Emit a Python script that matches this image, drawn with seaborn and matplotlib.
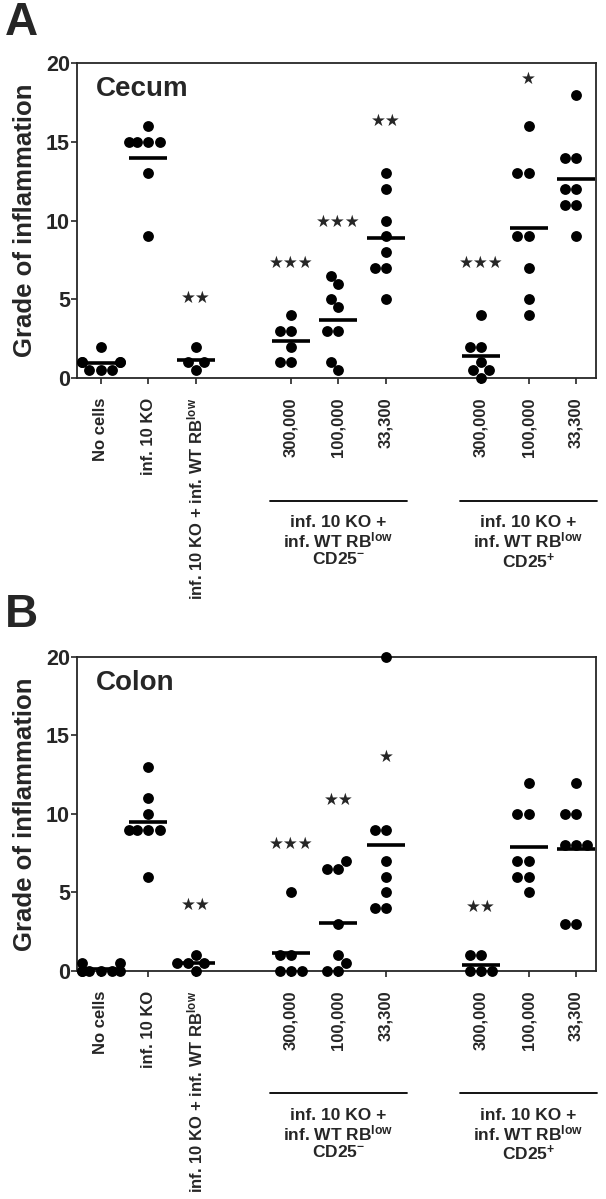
import numpy as np
import pandas as pd
import matplotlib
matplotlib.use("Agg")
import matplotlib.pyplot as plt
import matplotlib.transforms as mtransforms
import seaborn as sns

# group positions on the x axis (gaps between the three blocks)
positions = [0, 1, 2, 4, 5, 6, 8, 9, 10]
tick_labels = ["No cells", "inf. 10 KO", "inf. 10 KO + inf. WT RB$^{low}$",
               "300,000", "100,000", "33,300",
               "300,000", "100,000", "33,300"]

# grade of inflammation per mouse
cecum_values = [
    [2, 1, 1, 1, 1, 0.5, 0.5, 0.5],
    [16, 15, 15, 15, 15, 13, 9],
    [2, 1, 1, 0.5],
    [4, 3, 3, 2, 1, 1],
    [6.5, 6, 5, 4.5, 3, 3, 1, 0.5],
    [13, 12, 10, 9, 8, 7, 7, 5],
    [4, 2, 2, 1, 0.5, 0.5, 0],
    [16, 13, 13, 9, 9, 7, 5, 4],
    [18, 14, 14, 12, 12, 11, 11, 9],
]
colon_values = [
    [0.5, 0.5, 0, 0, 0, 0, 0, 0],
    [13, 11, 10, 9, 9, 9, 9, 6],
    [1, 0.5, 0.5, 0.5, 0],
    [5, 1, 1, 0, 0, 0],
    [7, 6.5, 6.5, 3, 1, 0.5, 0, 0],
    [20, 9, 9, 7, 6, 5, 4, 4],
    [1, 1, 0, 0, 0],
    [12, 10, 10, 7, 7, 6, 6, 5],
    [12, 10, 10, 8, 8, 8, 3, 3],
]

# significance marks and their heights
cecum_stars = ["", "", "**", "***", "***", "**", "***", "*", ""]
cecum_star_y = [0, 0, 5.1, 7.3, 9.9, 16.3, 7.3, 19.0, 0]
colon_stars = ["", "", "**", "***", "**", "*", "**", "", ""]
colon_star_y = [0, 0, 4.2, 8.1, 10.9, 13.65, 4.1, 0, 0]

# bracketed groups below the axis
group_members = [[4, 5, 6], [8, 9, 10]]
group_titles = ["inf. 10 KO +\ninf. WT RB$^{low}$\nCD25$^{-}$",
                "inf. 10 KO +\ninf. WT RB$^{low}$\nCD25$^{+}$"]

sns.set_style("ticks")
plt.rcParams['font.family'] = ['Liberation Sans', 'DejaVu Sans']
plt.rcParams['font.weight'] = 'bold'
plt.rcParams['mathtext.fontset'] = 'custom'
plt.rcParams['mathtext.rm'] = 'Liberation Sans:bold'
plt.rcParams['mathtext.it'] = 'Liberation Sans:bold'
plt.rcParams['mathtext.bf'] = 'Liberation Sans:bold'


def draw_panel(ax, values, stars, star_y, title):
    rows = [(p, v) for p, vals in zip(positions, values) for v in vals]
    df = pd.DataFrame(rows, columns=["pos", "grade"])

    sns.swarmplot(data=df, x="pos", y="grade", native_scale=True,
                  color="black", size=7.8, linewidth=0, warn_thresh=1, ax=ax)
    for c in ax.collections:
        c.set_clip_on(False)

    # mean bars
    means = df.groupby("pos")["grade"].mean()
    ax.hlines(means.values, means.index - 0.4, means.index + 0.4,
              colors="black", lw=2.6, clip_on=False)

    for p, s, y in zip(positions, stars, star_y):
        if s:
            ax.text(p, y, "\u2605" * len(s), ha="center", va="center",
                    fontsize=12, family="DejaVu Sans")

    ax.text(0.037, 0.917, title, transform=ax.transAxes, fontsize=20,
            fontweight="bold", va="center", ha="left")

    ax.set_xlim(-0.5, 10.42)
    ax.set_ylim(0, 20)
    ax.set_yticks([0, 5, 10, 15, 20])
    ax.set_yticklabels(["0", "5", "10", "15", "20"], fontsize=15.5, fontweight="bold")
    ax.set_xticks(positions)
    ax.set_xticklabels(tick_labels, rotation=90, fontsize=12, fontweight="bold",
                       va="top", ha="center")
    ax.tick_params(axis="x", length=4, width=1.2, pad=10)
    ax.tick_params(axis="y", length=4, width=1.2, pad=1)
    ax.set_xlabel("")
    ax.set_ylabel("Grade of inflammation", fontsize=18.5, fontweight="bold")
    ax.yaxis.set_label_coords(-0.078, 0.5)
    for sp in ax.spines.values():
        sp.set_visible(True)
        sp.set_linewidth(1.3)

    trans = mtransforms.blended_transform_factory(ax.transData, ax.transAxes)
    for members, label in zip(group_members, group_titles):
        ax.plot([min(members) - 0.45, max(members) + 0.45], [-0.39, -0.39],
                color="black", lw=1.3, transform=trans, clip_on=False)
        ax.text(np.mean(members), -0.435, label, transform=trans, ha="center",
                va="top", fontsize=12.5, fontweight="bold", linespacing=1.05)


fig = plt.figure(figsize=(6.06, 11.99), dpi=100)
ax_a = fig.add_axes([0.1271, 0.6847, 0.8564, 0.2627])
ax_b = fig.add_axes([0.1271, 0.1902, 0.8564, 0.2619])

draw_panel(ax_a, cecum_values, cecum_stars, cecum_star_y, "Cecum")
draw_panel(ax_b, colon_values, colon_stars, colon_star_y, "Colon")

fig.text(0.008, 0.971, "A", fontsize=33, fontweight="bold", va="baseline")
fig.text(0.008, 0.477, "B", fontsize=33, fontweight="bold", va="baseline")

plt.savefig("out.png", dpi=100)
